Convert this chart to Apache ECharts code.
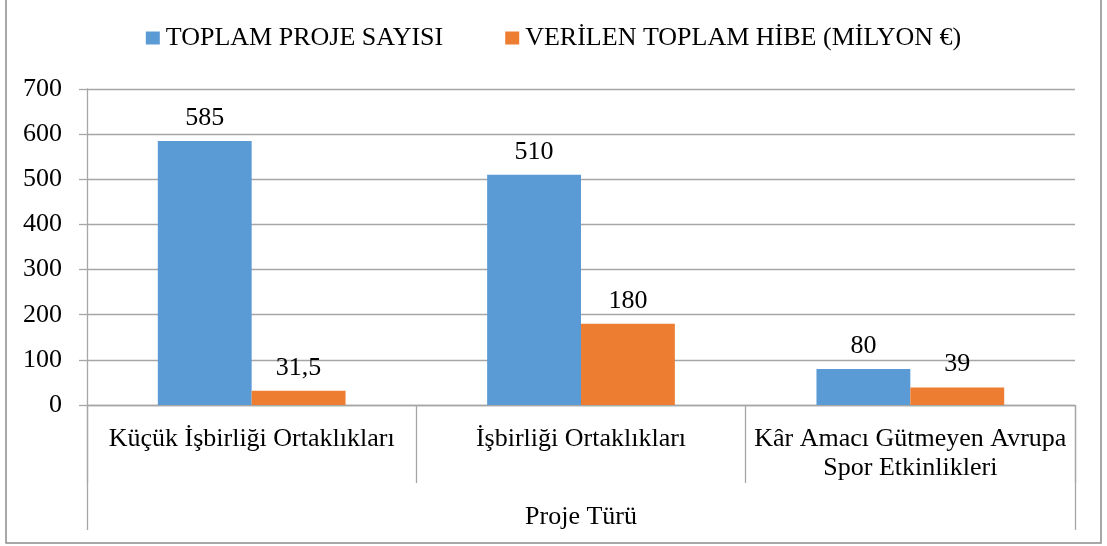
<!DOCTYPE html>
<html>
<head>
<meta charset="utf-8">
<script src="https://cdn.jsdelivr.net/npm/echarts@6/dist/echarts.min.js"></script>
<style>html,body{margin:0;padding:0;background:#fff;}#c{width:1107px;height:546px;}</style>
</head>
<body>
<div id="c"></div>
<script>
const categories = ['Küçük İşbirliği Ortaklıkları', 'İşbirliği Ortaklıkları', 'Kâr Amacı Gütmeyen Avrupa\nSpor Etkinlikleri'];
const groupTitle = ['Proje Türü'];
const seriesNames = ['TOPLAM PROJE SAYISI', 'VERİLEN TOPLAM HİBE (MİLYON €)'];
const projectCounts = [585, 510, 80];
const grants = [31.5, 180, 39];
const yTicks = { min: 0, max: 700, interval: 100 };

const FONT = '"Liberation Serif", "Times New Roman", serif';
const FS = 26;
const chart = echarts.init(document.getElementById('c'));
const lineCol = '#a6a6a6';
const labelFmt = p => String(p.value).replace('.', ',');
chart.setOption({
  animation: false,
  textStyle: { fontFamily: FONT, color: '#000' },
  graphic: [{
    type: 'rect', shape: { x: 6, y: -2, width: 1095, height: 545 },
    style: { fill: 'none', stroke: '#8c8c8c', lineWidth: 1.5 }, silent: true
  }],
  legend: {
    top: 20, left: 'center', itemWidth: 14, itemHeight: 13, itemGap: 62,
    icon: 'rect',
    textStyle: { fontFamily: FONT, fontSize: FS, color: '#000', padding: [0, 0, 0, 1] },
    data: seriesNames
  },
  grid: { left: 87, right: 32, top: 89, bottom: 141 },
  xAxis: [{
    type: 'category', data: categories, position: 'bottom',
    axisLine: { show: true, lineStyle: { color: lineCol, width: 1.3 } },
    axisTick: { show: true, length: 78, alignWithLabel: false, lineStyle: { color: lineCol, width: 1.3 } },
    axisLabel: { fontFamily: FONT, fontSize: FS, color: '#000', margin: 20, lineHeight: 29, interval: 0 }
  }, {
    type: 'category', data: groupTitle, position: 'bottom',
    axisLine: { show: false },
    axisTick: { show: true, length: 125, lineStyle: { color: lineCol, width: 1.3 } },
    axisLabel: { fontFamily: FONT, fontSize: FS, color: '#000', margin: 99 }
  }],
  yAxis: {
    type: 'value', min: yTicks.min, max: yTicks.max, interval: yTicks.interval,
    axisLine: { show: true, lineStyle: { color: lineCol, width: 1.3 } },
    axisTick: { show: true, length: 8, lineStyle: { color: lineCol, width: 1.3 } },
    splitLine: { show: true, lineStyle: { color: lineCol, width: 1.3 } },
    axisLabel: { fontFamily: FONT, fontSize: FS, color: '#000', margin: 25 }
  },
  series: [{
    name: seriesNames[0], type: 'bar', data: projectCounts, xAxisIndex: 0,
    barGap: '0%', barCategoryGap: '43%',
    itemStyle: { color: '#5b9bd5' },
    label: { show: true, position: 'top', distance: 10, fontFamily: FONT, fontSize: FS, color: '#000', formatter: labelFmt }
  }, {
    name: seriesNames[1], type: 'bar', data: grants, xAxisIndex: 0,
    barGap: '0%', barCategoryGap: '43%',
    itemStyle: { color: '#ed7d31' },
    label: { show: true, position: 'top', distance: 10, fontFamily: FONT, fontSize: FS, color: '#000', formatter: labelFmt }
  }]
});
</script>
</body>
</html>
